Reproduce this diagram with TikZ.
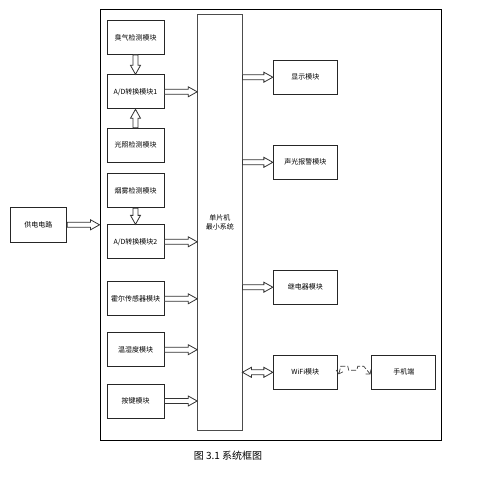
\documentclass[tikz,border=0pt]{standalone}
\usepackage{fontspec}
\setmainfont{Noto Sans CJK SC}
\usetikzlibrary{arrows.meta, positioning, calc}
\newcommand{\neckpt}[2]{($(\tikztotarget)!9pt!(\tikztostart)+(\tikztostart)!#1!#2:(\tikztotarget)-(\tikztostart)$)}
\newcommand{\tailpt}[2]{($(\tikztostart)!#1!#2:(\tikztotarget)$)}
\newcommand{\backpt}[2]{($(\tikztostart)!9pt!(\tikztotarget)+(\tikztostart)!#1!#2:(\tikztotarget)-(\tikztostart)$)}
\tikzset{
x=1pt, y=-1pt, % one unit is one pixel of the page
module/.style={draw=black!85, line width=0.9pt, minimum width=57pt, minimum height=34pt, inner sep=1pt, font=\fontsize{7}{8}\selectfont}, % the small boxes
outmodule/.style={module, minimum width=64pt}, % boxes on the right
flow/.style={draw=black!80, fill=white, line width=0.8pt, line join=miter, to path={
   \tailpt{2.5pt}{90} -- \neckpt{2.5pt}{90} -- \neckpt{5pt}{90} -- (\tikztotarget)
   -- \neckpt{5pt}{-90} -- \neckpt{2.5pt}{-90} -- \tailpt{2.5pt}{-90} -- cycle}}, % hollow block arrow
twoflow/.style={draw=black!80, fill=white, line width=0.8pt, line join=miter, to path={
   (\tikztostart) -- \backpt{5pt}{90} -- \backpt{2.5pt}{90} -- \neckpt{2.5pt}{90} -- \neckpt{5pt}{90} -- (\tikztotarget)
   -- \neckpt{5pt}{-90} -- \neckpt{2.5pt}{-90} -- \backpt{2.5pt}{-90} -- \backpt{5pt}{-90} -- cycle}}, % hollow arrow with two heads
wireless/.style={draw=black!75, line width=0.7pt, dash pattern=on 5pt off 2pt, {Straight Barb[length=3pt, width=7pt]}-{Straight Barb[length=3pt, width=7pt]}},
}

\begin{document}
\begin{tikzpicture}
    \useasboundingbox (0,0) rectangle (478,492);
    % outer frame and the microcontroller
    \node[draw=black, line width=0.9pt, minimum width=341pt, minimum height=430.5pt, inner sep=0pt] (frame) at (270.5,224.8) {};
    \node[draw=black!70, line width=0.9pt, minimum width=44.3pt, minimum height=415.7pt, align=center, font=\fontsize{7}{9}\selectfont] (mcu) at (219.8,222.2) {单片机\\最小系统};

    % input side
    \node[module] (odor) at (135.5,37.5) {臭气检测模块};
    \node[module] (ad1) at (135.5,91.8) {A/D转换模块1};
    \node[module] (light) at (135.5,145.3) {光照检测模块};
    \node[module] (smoke) at (135.5,190.8) {烟雾检测模块};
    \node[module] (ad2) at (135.5,241.8) {A/D转换模块2};
    \node[module] (hall) at (135.5,298.8) {霍尔传感器模块};
    \node[module] (humid) at (135.5,349.7) {温湿度模块};
    \node[module] (keys) at (135.5,401) {按键模块};
    \node[module, minimum width=56.7pt, minimum height=35pt] (power) at (38.3,224.8) {供电电路};

    % output side
    \node[outmodule] (disp) at (305.3,77.2) {显示模块};
    \node[outmodule] (alarm) at (305.3,162.3) {声光报警模块};
    \node[outmodule] (relay) at (305.3,287.2) {继电器模块};
    \node[outmodule] (wifi) at (305.3,372.3) {WiFi模块};
    \node[outmodule, minimum width=63.7pt, right=33.7pt of wifi] (phone) {手机端};

    \draw[flow] (odor.south) to (ad1.north);
    \draw[flow] (light.north) to (ad1.south);
    \draw[flow] (smoke.south) to (ad2.north);
    \draw[flow] (ad1.east) to (ad1.east-|mcu.west);
    \draw[flow] (ad2.east) to (ad2.east-|mcu.west);
    \draw[flow] (hall.east) to (hall.east-|mcu.west);
    \draw[flow] (humid.east) to (humid.east-|mcu.west);
    \draw[flow] (keys.east) to (keys.east-|mcu.west);
    \draw[flow] (power.east) to (power.east-|frame.west);
    \draw[flow] (disp.west-|mcu.east) to (disp.west);
    \draw[flow] (alarm.west-|mcu.east) to (alarm.west);
    \draw[flow] (relay.west-|mcu.east) to (relay.west);
    \draw[twoflow] (wifi.west-|mcu.east) to (wifi.west);
    \draw[wireless] ([xshift=1pt,yshift=-2pt]wifi.east) -- ++(2,-8) -- ++(7,0) -- ++(1,4) -- ++(8,0) -- ++(1,-4) -- ++(6,0) -- ([xshift=-1pt,yshift=-2pt]phone.west);

    \node[font=\fontsize{10}{12}\selectfont] (caption) at (228,456) {图 3.1 系统框图};
\end{tikzpicture}
\end{document}
